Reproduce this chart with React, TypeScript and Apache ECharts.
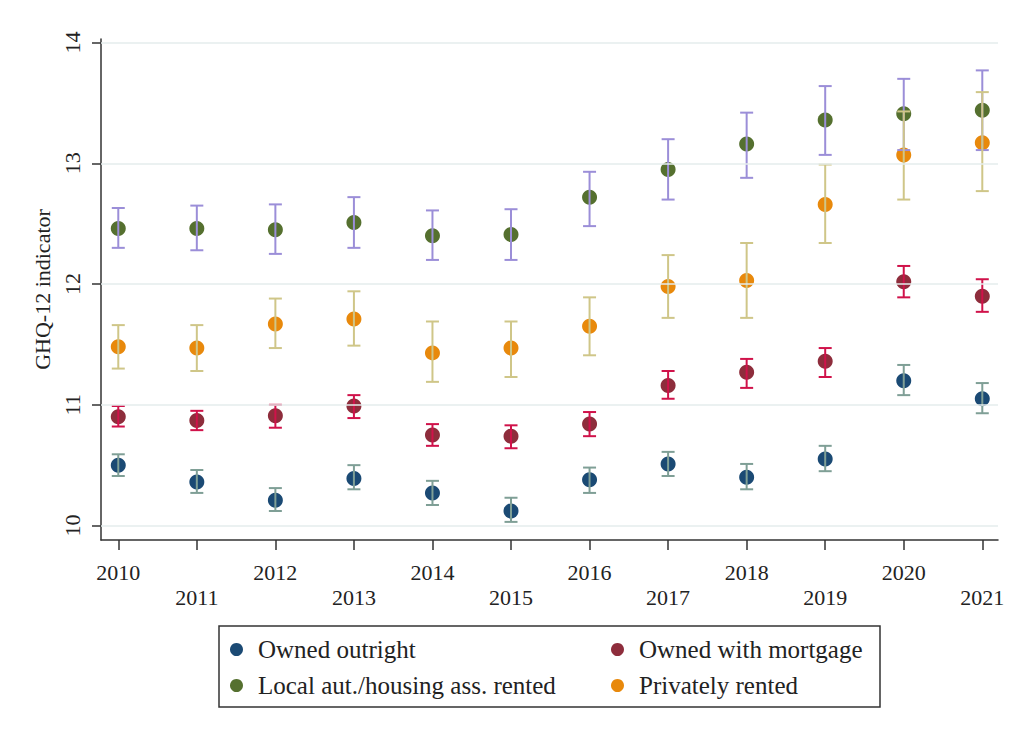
import React, { useEffect, useRef } from "react";
import * as echarts from "echarts";

const years = [2010, 2011, 2012, 2013, 2014, 2015, 2016, 2017, 2018, 2019, 2020, 2021];
const yTicks = [10, 11, 12, 13, 14];

const seriesNames = [
  "Owned outright",
  "Owned with mortgage",
  "Local aut./housing ass. rented",
  "Privately rented",
];

const ownedMean = [10.5, 10.36, 10.21, 10.39, 10.27, 10.12, 10.38, 10.51, 10.4, 10.55, 11.2, 11.05];
const ownedHi = [10.59, 10.46, 10.31, 10.5, 10.37, 10.23, 10.48, 10.61, 10.51, 10.66, 11.33, 11.18];
const ownedLo = [10.41, 10.27, 10.12, 10.3, 10.17, 10.03, 10.27, 10.41, 10.3, 10.45, 11.08, 10.93];

const mortMean = [10.9, 10.87, 10.91, 10.99, 10.75, 10.74, 10.84, 11.16, 11.27, 11.36, 12.02, 11.9];
const mortHi = [10.99, 10.95, 11.0, 11.08, 10.84, 10.83, 10.94, 11.28, 11.38, 11.47, 12.15, 12.04];
const mortLo = [10.82, 10.79, 10.81, 10.89, 10.66, 10.64, 10.74, 11.05, 11.14, 11.23, 11.89, 11.77];

const localMean = [12.46, 12.46, 12.45, 12.51, 12.4, 12.41, 12.72, 12.95, 13.16, 13.36, 13.41, 13.44];
const localHi = [12.63, 12.65, 12.66, 12.72, 12.61, 12.62, 12.93, 13.2, 13.42, 13.64, 13.7, 13.77];
const localLo = [12.3, 12.28, 12.25, 12.3, 12.2, 12.2, 12.48, 12.7, 12.88, 13.07, 13.11, 13.11];

const privMean = [11.48, 11.47, 11.67, 11.71, 11.43, 11.47, 11.65, 11.98, 12.03, 12.66, 13.07, 13.17];
const privHi = [11.66, 11.66, 11.88, 11.94, 11.69, 11.69, 11.89, 12.24, 12.34, 12.99, 13.43, 13.59];
const privLo = [11.3, 11.28, 11.47, 11.49, 11.19, 11.23, 11.41, 11.72, 11.72, 12.34, 12.7, 12.77];

const markerColors = ["#1b4a74", "#8e2d3c", "#55702f", "#e8890c"];
const barColors = ["#7f9f96", "#d0124a", "#9b8ed8", "#cfc688"];

const FONT = "'Liberation Serif', 'DejaVu Serif', serif";

export default function App() {
  const ref = useRef<HTMLDivElement>(null);

  useEffect(() => {
    if (!ref.current) return;
    const chart = echarts.init(ref.current, undefined, { renderer: "svg" });

    const means = [ownedMean, mortMean, localMean, privMean];
    const his = [ownedHi, mortHi, localHi, privHi];
    const los = [ownedLo, mortLo, localLo, privLo];

    const scatterSeries = seriesNames.map((name, i) => ({
      name,
      type: "scatter",
      symbol: "circle",
      symbolSize: 15,
      itemStyle: { color: markerColors[i], opacity: 1 },
      data: years.map((y, k) => [y, means[i][k]]),
      z: 3,
    }));

    const barSeries = seriesNames.map((name, i) => ({
      name: name + " CI",
      type: "custom",
      z: 4,
      data: years.map((y, k) => [y, los[i][k], his[i][k]]),
      renderItem: (params: any, api: any) => {
        const x = api.value(0);
        const lo = api.coord([x, api.value(1)]);
        const hi = api.coord([x, api.value(2)]);
        const hw = 6.5;
        const style = { stroke: barColors[i], lineWidth: 2 };
        return {
          type: "group",
          children: [
            { type: "line", shape: { x1: lo[0], y1: lo[1], x2: hi[0], y2: hi[1] }, style },
            { type: "line", shape: { x1: lo[0] - hw, y1: lo[1], x2: lo[0] + hw, y2: lo[1] }, style },
            { type: "line", shape: { x1: hi[0] - hw, y1: hi[1], x2: hi[0] + hw, y2: hi[1] }, style },
          ],
        };
      },
    }));

    const gridSeries = {
      name: "grid",
      type: "line",
      data: [],
      silent: true,
      z: 1,
      markLine: {
        silent: true,
        symbol: "none",
        label: { show: false },
        lineStyle: { color: "#e4eded", width: 1.5, type: "solid" },
        data: yTicks.map((v) => ({ yAxis: v })),
      },
    };

    const legendCommon = {
      orient: "vertical",
      icon: "circle",
      itemWidth: 13,
      itemHeight: 13,
      itemGap: 9,
      padding: 0,
      selectedMode: false,
      textStyle: {
        fontFamily: FONT,
        fontSize: 25,
        color: "#222",
        lineHeight: 27,
        padding: [0, 0, 0, 10],
      },
    };

    chart.setOption({
      animation: false,
      backgroundColor: "#fff",
      grid: { left: 101, right: 26, top: 39, bottom: 205, containLabel: false },
      xAxis: {
        type: "value",
        min: 2009.78,
        max: 2021.2,
        axisLine: { show: true, onZero: false, lineStyle: { color: "#333", width: 1.5 } },
        axisTick: { show: true, length: 10, customValues: years, lineStyle: { color: "#333", width: 1.5 } },
        splitLine: { show: false },
        axisLabel: {
          customValues: years,
          margin: 21,
          formatter: (v: number) => (v % 2 === 0 ? `{e|${v}}` : `{o|${v}}`),
          rich: {
            e: { fontFamily: FONT, fontSize: 22, color: "#222" },
            o: { fontFamily: FONT, fontSize: 22, color: "#222", padding: [25, 0, 0, 0] },
          },
        },
      },
      yAxis: {
        type: "value",
        min: 9.88,
        max: 14.03,
        name: "GHQ-12 indicator",
        nameLocation: "middle",
        nameGap: 44,
        nameTextStyle: { fontFamily: FONT, fontSize: 22, color: "#222" },
        axisLine: { show: true, onZero: false, lineStyle: { color: "#333", width: 1.5 } },
        axisTick: { show: true, length: 9, customValues: yTicks, lineStyle: { color: "#333", width: 1.5 } },
        splitLine: { show: false },
        axisLabel: {
          customValues: yTicks,
          rotate: 90,
          margin: 18,
          fontFamily: FONT,
          fontSize: 22,
          color: "#222",
        },
      },
      legend: [
        { ...legendCommon, left: 230, top: 636, data: [seriesNames[0], seriesNames[2]] },
        { ...legendCommon, left: 611, top: 636, data: [seriesNames[1], seriesNames[3]] },
      ],
      graphic: [
        {
          type: "rect",
          shape: { x: 219, y: 626, width: 661, height: 81 },
          style: { fill: "none", stroke: "#333", lineWidth: 1.5 },
        },
      ],
      series: [gridSeries, ...scatterSeries, ...barSeries],
    });

    return () => chart.dispose();
  }, []);

  return (
    <div
      ref={ref}
      style={{ position: "fixed", left: 0, top: 0, width: 1024, height: 745, background: "#fff" }}
    />
  );
}
